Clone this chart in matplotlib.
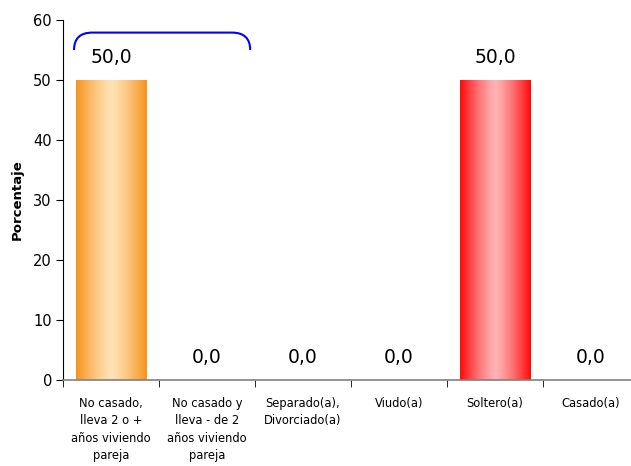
import matplotlib
matplotlib.use("Agg")
import matplotlib.pyplot as plt
import numpy as np
from matplotlib.colors import LinearSegmentedColormap
from matplotlib.path import Path
from matplotlib.patches import PathPatch

categories = ["No casado,\nlleva 2 o +\naños viviendo\npareja",
              "No casado y\nlleva - de 2\naños viviendo\npareja",
              "Separado(a),\nDivorciado(a)",
              "Viudo(a)",
              "Soltero(a)",
              "Casado(a)"]
values = [50.0, 0.0, 0.0, 0.0, 50.0, 0.0]
value_labels = ["50,0", "0,0", "0,0", "0,0", "50,0", "0,0"]
yticks = [0, 10, 20, 30, 40, 50, 60]

edge_cols = {0: ("#F7931E", "#FFE2B4"), 4: ("#FF0A0A", "#FFB2B4")}

fig = plt.figure(figsize=(6.31, 4.66), dpi=100)
ax = fig.add_axes([63/631, 1-380/466, 576/631, 360/466])
x = np.arange(len(categories))
bw = 0.73
ax.set_xlim(-0.5, len(categories)-0.5)
ax.set_ylim(0, 60)

bars = ax.bar(x, values, width=bw, color="none", edgecolor="none")
grad = np.abs(np.linspace(-1, 1, 256))**1.3
grad = grad.reshape(1, -1)
for i, b in enumerate(bars):
    if values[i] <= 0:
        continue
    c_edge, c_mid = edge_cols.get(i, ("#F7931E", "#FFE2B4"))
    cmap = LinearSegmentedColormap.from_list("g", [c_mid, c_edge])
    x0 = b.get_x(); w = b.get_width(); h = b.get_height()
    im = ax.imshow(grad, cmap=cmap, aspect="auto", extent=[x0, x0+w, 0, h],
                   origin="lower", zorder=2, interpolation="bilinear")
    im.set_clip_path(b)

for i, v in enumerate(values):
    ax.text(x[i], v + 3.7, value_labels[i], ha="center", va="center",
            fontsize=13.5, color="black")

# blue bracket over first category
xl, xr = -0.385, 1.45
yb, yt = 55.0, 57.9
r = 0.19
verts = [(xl, yb), (xl, yt), (xl+r, yt), (xr-r, yt),
         (xr, yt), (xr, yb)]
codes = [Path.MOVETO, Path.CURVE3, Path.CURVE3, Path.LINETO,
         Path.CURVE3, Path.CURVE3]
ax.add_patch(PathPatch(Path(verts, codes), fill=False, edgecolor="#0000FF",
                       lw=1.5, clip_on=False, zorder=3))

ax.set_yticks(yticks)
ax.set_yticklabels([str(t) for t in yticks], fontsize=10.5)
ax.set_xticks(x)
ax.set_xticklabels(categories, fontsize=8.3, linespacing=1.45)
ax.set_xticks(np.arange(-0.5, len(categories)), minor=True)
ax.tick_params(axis="x", which="major", length=0, pad=12)
ax.tick_params(axis="x", which="minor", length=5, direction="out", color="black")
ax.tick_params(axis="y", length=5, direction="out", pad=3)
ax.set_ylabel("Porcentaje", fontsize=9.5, fontweight="bold")
ax.yaxis.set_label_coords(-0.068, 0.5)

for s in ["top", "right"]:
    ax.spines[s].set_visible(False)
ax.spines["left"].set_color("black")
ax.spines["bottom"].set_color("#808080")
ax.spines["bottom"].set_linewidth(1.2)

fig.savefig("out.png", dpi=100)
